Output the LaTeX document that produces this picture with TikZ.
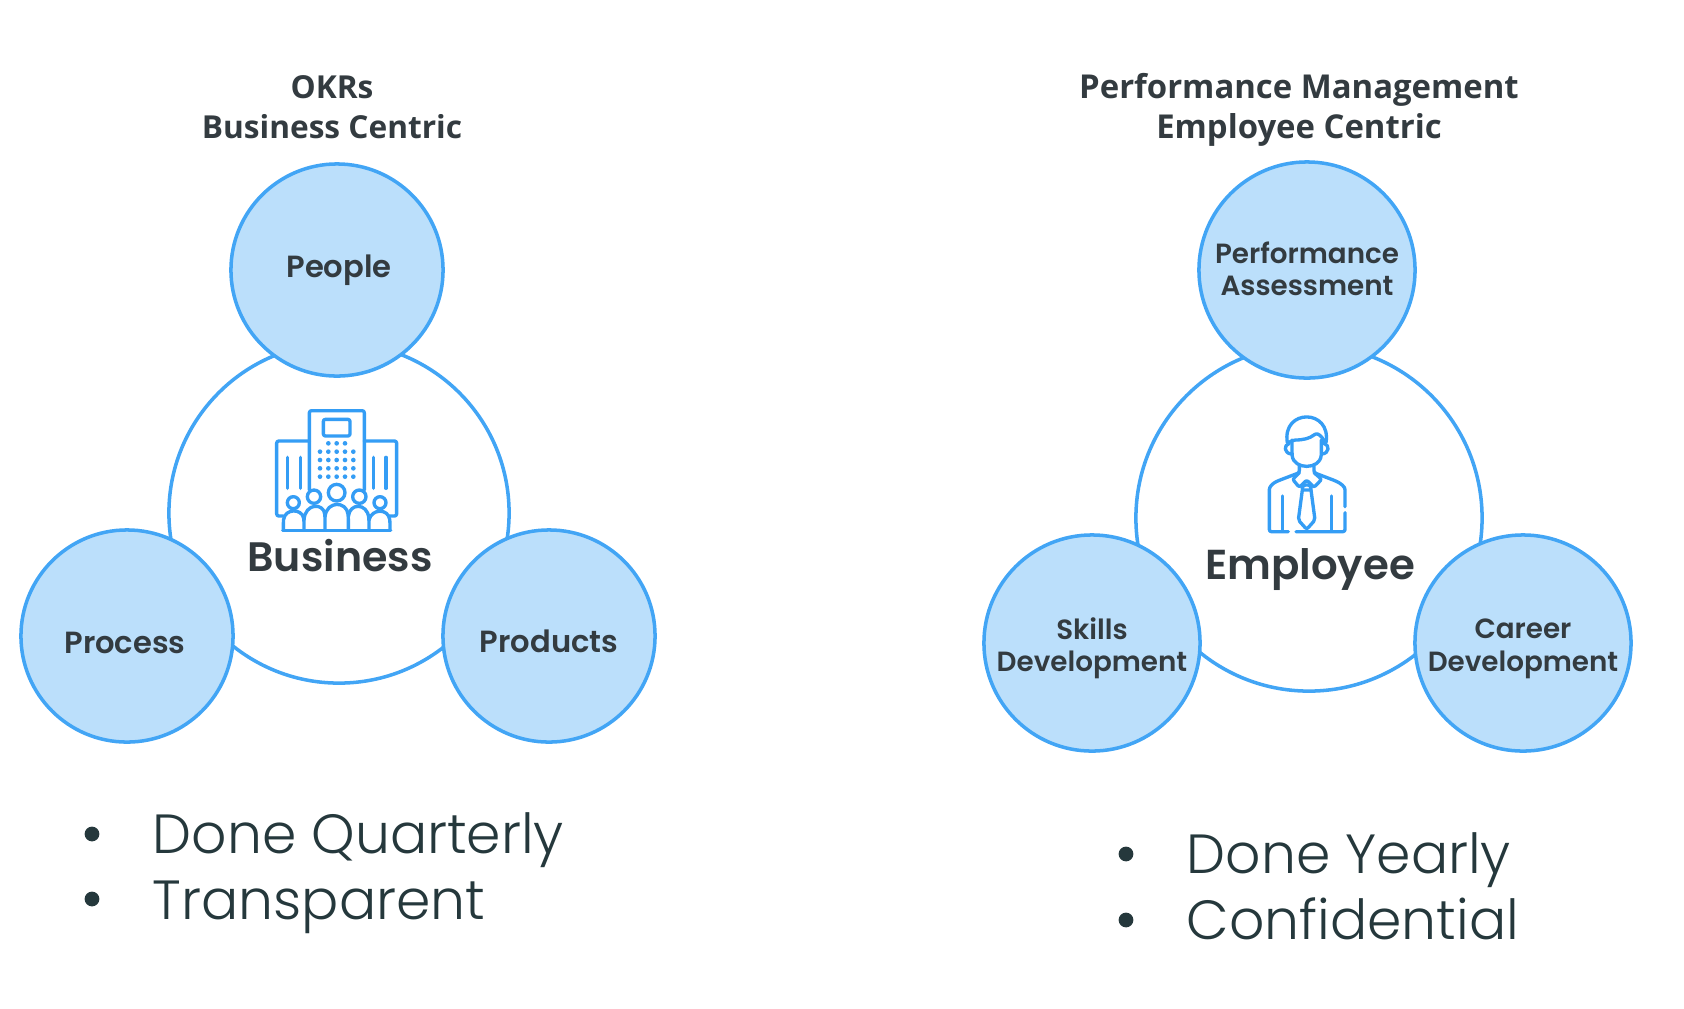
\documentclass[tikz,border=0pt]{standalone}
\usepackage{xcolor}
\usepackage{fontspec}
\setmainfont{Poppins}
\newfontfamily\titlefont{Open Sans}
\newfontfamily\listfont{Poppins Light}
\newfontfamily\labelfont{Poppins SemiBold}
\definecolor{ringBlue}{HTML}{42A5F5}
\definecolor{fillBlue}{HTML}{BBDFFB}
\definecolor{iconBlue}{HTML}{349DF5}
\definecolor{labelGray}{HTML}{333B40}
\definecolor{listTeal}{HTML}{25383C}
\tikzset{
ring/.style = {circle, draw=ringBlue, line width=1pt, fill=white, minimum size=#1,
              inner sep=0pt, outer sep=0pt},
ring/.default = 3.4cm
}
\tikzset{
petal/.style = {circle, draw=ringBlue, line width=1pt, fill=fillBlue, minimum size=#1,
              inner sep=0pt, outer sep=0pt},
petal/.default = 2.12cm,
petal label/.style = {align=center, font=\fontsize{#1}{9.2pt}\selectfont\labelfont, text=labelGray},
petal label/.default = 8.7pt,
heading/.style = {align=center, font=\fontsize{#1}{11.2pt}\selectfont\titlefont\bfseries, text=labelGray},
center label/.style = {font=\fontsize{#1}{14pt}\selectfont\labelfont, text=labelGray},
list item/.style = {anchor=base west, inner sep=0pt, font=\fontsize{15.7pt}{19pt}\selectfont\listfont, text=listTeal},
list dot/.style = {circle, fill=listTeal, minimum size=#1, inner sep=0pt, outer sep=0pt},
list dot/.default = 4.2pt,
icon/.style = {draw=iconBlue, line width=0.95pt, line cap=round, line join=round, rounded corners=0.6pt}
}
\begin{document}
\begin{tikzpicture}[x=0.01cm, y=-0.01cm]
  \useasboundingbox (0,0) rectangle (1684,1008);

  % Left titles
    \node[heading=9pt] (okrTitle) at (332,107) {OKRs\\Business Centric};

  % Left circles
    \node[ring] (businessRing) at (339,513) {};
    \node[petal] (peopleBox) at (337,270) {};
    \node[petal] (processBox) at (127,636) {};
    \node[petal] (productsBox) at (549,636) {};
    \node[petal label] (peopleLabel) at (339,270) {People};
    \node[petal label] (processLabel) at (125,643) {Process};
    \node[petal label] (productsLabel) at (549,641) {Products};
    \node[center label=11.7pt] (businessLabel) at (340,556) {Business};

  % Building
    \begin{scope}[shift={(230,380)}, x=0.01cm/3, y=-0.01cm/3]
      \draw[icon] (238,330) -- (238,92) -- (403,92) -- (403,330);
      \draw[icon] (238,183) -- (140,183) -- (140,408) -- (160,408);
      \draw[icon] (403,183) -- (500,183) -- (500,408) -- (480,408);
      \draw[icon] (280,118) rectangle (360,168);
      \foreach \xa in {172,212,430,468}
        \draw[icon] (\xa,232) -- (\xa,325);
      \foreach \xa in {295,320,345}
        \fill[iconBlue] (\xa,190) circle[radius=7];
      \foreach \ya in {215,240,265,290}
        \foreach \xa in {270,295,320,345,370}
          \fill[iconBlue] (\xa,\ya) circle[radius=7];
      % People
      \draw[icon] (190,368) circle[radius=18];
      \draw[icon] (252,350) circle[radius=20];
      \draw[icon] (320,338) circle[radius=25];
      \draw[icon] (388,350) circle[radius=20];
      \draw[icon] (450,368) circle[radius=18];
      \draw[icon] (158,452) -- (482,452);
      \draw[icon] (160,450) -- (160,425) .. controls (165,385) and (215,385) .. (222,420) -- (222,450);
      \draw[icon] (222,420) .. controls (225,368) and (282,368) .. (285,410) -- (285,450);
      \draw[icon] (285,410) .. controls (290,362) and (350,362) .. (355,410) -- (355,450);
      \draw[icon] (355,410) .. controls (358,368) and (412,368) .. (417,420) -- (417,450);
      \draw[icon] (417,420) .. controls (425,385) and (475,385) .. (480,425) -- (480,450);
    \end{scope}

  % Right titles
    \node[heading=9.35pt] (perfTitle) at (1299,110) {Performance Management\\Employee Centric};

  % Right circles
    \node[ring=3.46cm] (employeeRing) at (1309,518) {};
    \node[petal=2.16cm] (assessBox) at (1307,270) {};
    \node[petal=2.16cm] (skillsBox) at (1092,643) {};
    \node[petal=2.16cm] (careerBox) at (1523,643) {};
    \node[petal label=7.9pt] (assessLabel) at (1307,269) {Performance\\Assessment};
    \node[petal label=7.9pt] (skillsLabel) at (1092,648) {Skills\\Development};
    \node[petal label=7.9pt] (careerLabel) at (1523,649) {Career\\Development};
    \node[center label=11.9pt] (employeeLabel) at (1310,570) {Employee};

  % Person
    \begin{scope}[shift={(1210,390)}, x=0.01cm/3, y=-0.01cm/3]
      \draw[icon] (232,158) .. controls (215,55) and (365,55) .. (348,158);
      \draw[icon] (235,158) -- (250,150) .. controls (280,150) and (300,145) .. (318,130) .. controls (330,135) and (340,145) .. (345,158);
      \draw[icon] (246,150) -- (246,190) .. controls (250,240) and (330,240) .. (334,190) -- (334,150);
      \draw[icon] (238,160) .. controls (220,165) and (222,190) .. (244,192);
      \draw[icon] (342,160) .. controls (360,165) and (358,190) .. (336,192);
      \draw[icon] (268,228) -- (268,248) -- (205,272) .. controls (188,280) and (178,290) .. (178,305) -- (178,425) -- (235,425);
      \draw[icon] (258,425) -- (405,425) -- (405,368);
      \draw[icon] (405,350) -- (405,305) .. controls (405,290) and (392,280) .. (375,272) -- (312,248) -- (312,228);
      \draw[icon] (218,318) -- (218,420);
      \draw[icon] (365,318) -- (365,420);
      \draw[icon] (268,248) -- (248,268) -- (268,292) -- (290,270) -- (312,292) -- (335,268) -- (312,248);
      \draw[icon] (280,285) -- (300,285) -- (305,300) -- (275,300) -- cycle;
      \draw[icon] (277,300) -- (265,390) -- (290,418) -- (315,390) -- (303,300);
    \end{scope}

  % Bullet lists
    \node[list dot] (dotQuarterly) at (92,834) {};
    \node[list dot] (dotTransparent) at (92,899) {};
    \node[list item] (itemQuarterly) at (152,853) {Done Quarterly};
    \node[list item] (itemTransparent) at (152,919) {Transparent};
    \node[list dot] (dotYearly) at (1126,854) {};
    \node[list dot] (dotConfidential) at (1126,920) {};
    \node[list item] (itemYearly) at (1186,873) {Done Yearly};
    \node[list item] (itemConfidential) at (1186,939) {Confidential};
  \end{tikzpicture}
\end{document}
